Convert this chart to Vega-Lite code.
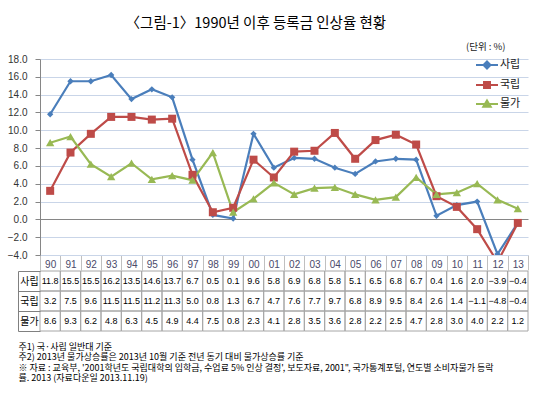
{
  "$schema": "https://vega.github.io/schema/vega-lite/v6.json",
  "background": "white",
  "padding": {"left": 7, "top": 16, "right": 22, "bottom": 6},
  "config": {"view": {"stroke": null}, "font": "Noto Sans CJK KR", "concat": {"spacing": 0}},
  "title": {"text": "〈그림-1〉1990년 이후 등록금 인상율 현황", "fontSize": 14.5, "fontWeight": "normal", "font": "Noto Sans CJK KR", "color": "#000", "anchor": "middle", "offset": 10, "dx": -12},
  "data": {"values": [
    {"year":1990,"series":"사립","value":11.8},{"year":1991,"series":"사립","value":15.5},{"year":1992,"series":"사립","value":15.5},{"year":1993,"series":"사립","value":16.2},{"year":1994,"series":"사립","value":13.5},{"year":1995,"series":"사립","value":14.6},{"year":1996,"series":"사립","value":13.7},{"year":1997,"series":"사립","value":6.7},{"year":1998,"series":"사립","value":0.5},{"year":1999,"series":"사립","value":0.1},{"year":2000,"series":"사립","value":9.6},{"year":2001,"series":"사립","value":5.8},{"year":2002,"series":"사립","value":6.9},{"year":2003,"series":"사립","value":6.8},{"year":2004,"series":"사립","value":5.8},{"year":2005,"series":"사립","value":5.1},{"year":2006,"series":"사립","value":6.5},{"year":2007,"series":"사립","value":6.8},{"year":2008,"series":"사립","value":6.7},{"year":2009,"series":"사립","value":0.4},{"year":2010,"series":"사립","value":1.6},{"year":2011,"series":"사립","value":2.0},{"year":2012,"series":"사립","value":-3.9},{"year":2013,"series":"사립","value":-0.4},
    {"year":1990,"series":"국립","value":3.2},{"year":1991,"series":"국립","value":7.5},{"year":1992,"series":"국립","value":9.6},{"year":1993,"series":"국립","value":11.5},{"year":1994,"series":"국립","value":11.5},{"year":1995,"series":"국립","value":11.2},{"year":1996,"series":"국립","value":11.3},{"year":1997,"series":"국립","value":5.0},{"year":1998,"series":"국립","value":0.8},{"year":1999,"series":"국립","value":1.3},{"year":2000,"series":"국립","value":6.7},{"year":2001,"series":"국립","value":4.7},{"year":2002,"series":"국립","value":7.6},{"year":2003,"series":"국립","value":7.7},{"year":2004,"series":"국립","value":9.7},{"year":2005,"series":"국립","value":6.8},{"year":2006,"series":"국립","value":8.9},{"year":2007,"series":"국립","value":9.5},{"year":2008,"series":"국립","value":8.4},{"year":2009,"series":"국립","value":2.6},{"year":2010,"series":"국립","value":1.4},{"year":2011,"series":"국립","value":-1.1},{"year":2012,"series":"국립","value":-4.8},{"year":2013,"series":"국립","value":-0.4},
    {"year":1990,"series":"물가","value":8.6},{"year":1991,"series":"물가","value":9.3},{"year":1992,"series":"물가","value":6.2},{"year":1993,"series":"물가","value":4.8},{"year":1994,"series":"물가","value":6.3},{"year":1995,"series":"물가","value":4.5},{"year":1996,"series":"물가","value":4.9},{"year":1997,"series":"물가","value":4.4},{"year":1998,"series":"물가","value":7.5},{"year":1999,"series":"물가","value":0.8},{"year":2000,"series":"물가","value":2.3},{"year":2001,"series":"물가","value":4.1},{"year":2002,"series":"물가","value":2.8},{"year":2003,"series":"물가","value":3.5},{"year":2004,"series":"물가","value":3.6},{"year":2005,"series":"물가","value":2.8},{"year":2006,"series":"물가","value":2.2},{"year":2007,"series":"물가","value":2.5},{"year":2008,"series":"물가","value":4.7},{"year":2009,"series":"물가","value":2.8},{"year":2010,"series":"물가","value":3.0},{"year":2011,"series":"물가","value":4.0},{"year":2012,"series":"물가","value":2.2},{"year":2013,"series":"물가","value":1.2}
  ]},
  "resolve": {"scale": {"x": "independent", "y": "independent"}},
  "spacing": -5,
  "vconcat": [
    {
      "width": 488,
      "height": 196,
      "title": {"text": "(단위 : %)", "anchor": "end", "fontSize": 9.5, "fontWeight": "normal", "color": "#222", "font": "Noto Sans CJK KR", "dx": -23, "offset": 3},
      "encoding": {
        "x": {"field": "year", "type": "ordinal", "scale": {"type": "band", "paddingInner": 0, "paddingOuter": 0},
          "axis": {"title": null, "orient": "bottom", "labelExpr": "substring(datum.label, 2)", "tickBand": "extent", "tickSize": 15, "tickColor": "#c0c0c0", "domainColor": "#c9d5e8", "labelPadding": -11, "labelFont": "Liberation Sans", "labelFontSize": 10, "labelColor": "#4a4a6a", "labelAngle": 0, "grid": false}},
        "y": {"field": "value", "type": "quantitative", "scale": {"domain": [-4, 18], "nice": false, "zero": false},
          "axis": {"title": null, "values": [-4, -2, 0, 2, 4, 6, 8, 10, 12, 14, 16, 18], "format": ".1f", "labelOverlap": false, "grid": true,
            "gridColor": {"condition": {"test": "datum.value === 0", "value": "#868686"}, "value": "#c9d5e8"},
            "domainColor": "#868686", "tickColor": "#868686", "tickSize": 5, "labelPadding": 8, "labelFont": "Liberation Sans", "labelFontSize": 10, "labelColor": "#333"}}
      },
      "layer": [
        {
          "mark": {"type": "line", "strokeWidth": 2.2, "clip": true},
          "encoding": {
            "color": {"field": "series", "type": "nominal", "scale": {"domain": ["사립", "국립", "물가"], "range": ["#4A7EBB", "#BE4B48", "#98B954"]},
              "legend": {"title": null, "orient": "none", "legendX": 435, "legendY": -6, "direction": "vertical", "symbolSize": 484, "labelOffset": 1, "rowPadding": -5, "labelFont": "Noto Sans CJK KR", "labelFontSize": 11, "labelColor": "#222", "symbolStrokeWidth": 2,
                "encode": {"symbols": {"update": {
                  "shape": {"signal": "datum.value === '사립' ? 'M-1,0H1M0,-0.32L0.32,0L0,0.32L-0.32,0Z' : datum.value === '국립' ? 'M-1,0H1M-0.27,-0.27H0.27V0.27H-0.27Z' : 'M-1,0H1M0,-0.32L0.34,0.26H-0.34Z'"},
                  "fill": {"signal": "datum.value === '사립' ? '#4A7EBB' : datum.value === '국립' ? '#BE4B48' : '#98B954'"},
                  "stroke": {"signal": "datum.value === '사립' ? '#4A7EBB' : datum.value === '국립' ? '#BE4B48' : '#98B954'"},
                  "strokeWidth": {"value": 2},
                  "opacity": {"value": 1}
                }}}}}
          }
        },
        {
          "transform": [{"filter": "datum.series === '사립'"}],
          "mark": {"type": "point", "shape": "diamond", "size": 40, "filled": true, "opacity": 1, "clip": true},
          "encoding": {"color": {"field": "series", "type": "nominal"}}
        },
        {
          "transform": [{"filter": "datum.series === '국립'"}],
          "mark": {"type": "point", "shape": "square", "size": 64, "filled": true, "opacity": 1, "clip": true},
          "encoding": {"color": {"field": "series", "type": "nominal"}}
        },
        {
          "transform": [{"filter": "datum.series === '물가'"}],
          "mark": {"type": "point", "shape": "triangle-up", "size": 70, "filled": true, "opacity": 1, "clip": true},
          "encoding": {"color": {"field": "series", "type": "nominal"}}
        }
      ]
    },
    {
      "width": 488,
      "height": 60,
      "layer": [
        {
          "mark": {"type": "rect", "fill": "white", "fillOpacity": 0, "stroke": "#a6a6a6", "strokeWidth": 1},
          "encoding": {
            "x": {"field": "year", "type": "ordinal", "scale": {"type": "band", "paddingInner": 0, "paddingOuter": 0},
              "axis": {"orient": "bottom", "labels": false, "ticks": false, "domain": false, "grid": false,
                "title": ["주1) 국·사립 일반대 기준", "주2) 2013년 물가상승률은 2013년 10월 기준 전년 동기 대비 물가상승률 기준", "※ 자료 : 교육부, '2001학년도 국립대학의 입학금, 수업료 5% 인상 결정', 보도자료, 2001\", 국가통계포털, 연도별 소비자물가 등락", "률. 2013 (자료다운일 2013.11.19)"],
                "titleAnchor": "start", "titleAlign": "left", "titleX": -22, "titleBaseline": "top", "titlePadding": 11, "titleFont": "Noto Sans CJK KR", "titleFontSize": 9, "titleFontWeight": "normal", "titleColor": "#000", "titleLineHeight": 10.5}},
            "y": {"field": "series", "type": "nominal", "scale": {"type": "band", "domain": ["사립", "국립", "물가"], "paddingInner": 0, "paddingOuter": 0},
              "axis": {"title": null, "orient": "left", "offset": 22, "domain": true, "domainColor": "#808080", "ticks": true, "tickBand": "extent", "tickSize": -22, "tickColor": "#808080", "labelPadding": 11, "labelAlign": "center", "labelFont": "Noto Sans CJK KR", "labelFontSize": 10, "labelColor": "#000", "grid": false}}
          }
        },
        {
          "mark": {"type": "text", "font": "Liberation Sans", "fontSize": 9, "color": "#000"},
          "encoding": {
            "x": {"field": "year", "type": "ordinal"},
            "y": {"field": "series", "type": "nominal"},
            "text": {"field": "value", "type": "quantitative", "format": ".1f"}
          }
        }
      ]
    }
  ]
}
